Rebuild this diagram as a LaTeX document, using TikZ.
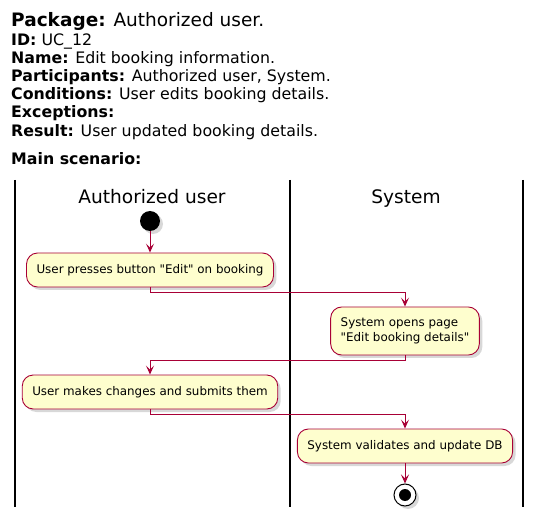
\documentclass[tikz,border=0pt]{standalone}
\usepackage{fontspec}
\setmainfont{DejaVu Sans}
\usetikzlibrary{arrows.meta,shadows}
\definecolor{actfill}{HTML}{FEFECE}
\definecolor{actline}{HTML}{A80036}
\begin{document}
\begin{tikzpicture}[x=1pt,y=-1pt,
		head/.style={anchor=base west,inner sep=0pt,font=\fontsize{15.8}{18}\selectfont},
		lane/.style={line width=1.4pt},
		act/.style={draw=actline,fill=actfill,line width=0.9pt,rounded corners=11pt,minimum height=34pt,inner xsep=10pt,font=\fontsize{11.9}{15}\selectfont,drop shadow={shadow xshift=3pt,shadow yshift=-3pt,fill=black!30}},
		flow/.style={draw=actline,line width=0.9pt,-{Stealth[length=9pt,width=8pt,inset=4pt]}}]
		\useasboundingbox (0,0) rectangle (541,521);
		% header
		\node[head,font=\fontsize{18.5}{22}\selectfont] (pkg) at (11,27) {\textbf{Package:} Authorized user.};
		\node[head] (id) at (11,46) {\textbf{ID:} UC\_12};
		\node[head] (name) at (11,64) {\textbf{Name:} Edit booking information.};
		\node[head] (part) at (11,82) {\textbf{Participants:} Authorized user, System.};
		\node[head] (cond) at (11,100) {\textbf{Conditions:} User edits booking details.};
		\node[head] (exc) at (11,118) {\textbf{Exceptions:}};
		\node[head] (res) at (11,137) {\textbf{Result:} User updated booking details.};
		\node[head] (main) at (11,165) {\textbf{Main scenario:}};
		% swimlanes
		\draw[lane] (15,180) -- (15,507);
		\draw[lane] (290,180) -- (290,507);
		\draw[lane] (523,180) -- (523,507);
		\node[anchor=base,font=\fontsize{18.6}{22}\selectfont] (user) at (152,204) {Authorized user};
		\node[anchor=base,font=\fontsize{18.6}{22}\selectfont] (sys) at (406,204) {System};
		% activities
		\node[circle,fill=black,minimum size=20pt,inner sep=0pt,drop shadow={shadow xshift=3pt,shadow yshift=-3pt,fill=black!30}] (start) at (150,221) {};
		\node[act] (press) at (150,270) {User presses button \textquotedbl Edit\textquotedbl\ on booking};
		\node[act,align=left,minimum height=48pt] (open) at (405,331) {System opens page\\\textquotedbl Edit booking details\textquotedbl};
		\node[act] (edit) at (150,392) {User makes changes and submits them};
		\node[act] (check) at (405,446) {System validates and update DB};
		\node[circle,draw=black,fill=white,line width=1pt,minimum size=22pt,inner sep=0pt,drop shadow={shadow xshift=3pt,shadow yshift=-3pt,fill=black!30}] (stop) at (405,495) {};
		\node[circle,fill=black,minimum size=12pt,inner sep=0pt] (stopdot) at (stop) {};
		% connectors
		\draw[flow] (start) -- (press);
		\draw[flow] (press.south) -- ++(0,5) -| (open.north);
		\draw[flow] (open.south) -- ++(0,5) -| (edit.north);
		\draw[flow] (edit.south) -- ++(0,5) -| (check.north);
		\draw[flow] (check) -- (stop);
	\end{tikzpicture}
\end{document}
